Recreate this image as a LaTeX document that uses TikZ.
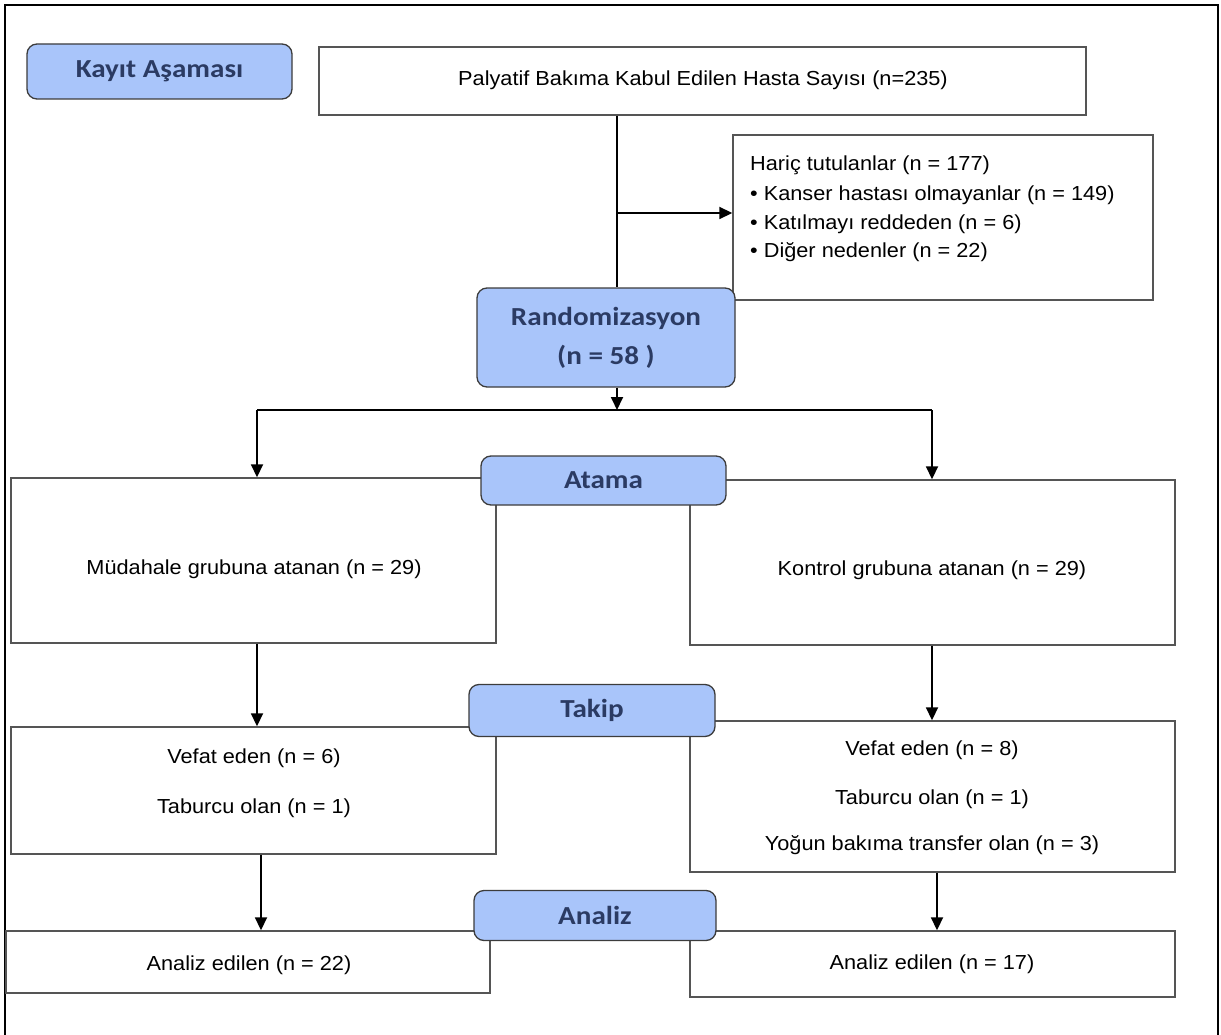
\documentclass[tikz,border=0pt]{standalone}
\usepackage{fontspec}
\setmainfont{Liberation Sans}[FakeStretch=1.07]
\newfontfamily\phasefont{Carlito}[FakeStretch=1.12]
\usetikzlibrary{arrows.meta}
\definecolor{phasefill}{HTML}{A9C5FA}
\definecolor{phasetext}{HTML}{2B3B63}
\definecolor{boxline}{HTML}{555555}
\begin{document}
\begin{tikzpicture}[x=1pt,y=-1pt,
  box/.style={draw=boxline, line width=1.4pt, fill=white, inner sep=0pt},
  phase/.style={draw=boxline!70!black, line width=1.3pt, fill=phasefill, rounded corners=10pt,
    inner sep=0pt, align=center, text=phasetext, font=\phasefont\bfseries\fontsize{26}{39}\selectfont},
  txt/.style={inner sep=0pt, font=\fontsize{20.3}{24}\selectfont},
  conn/.style={line width=1.8pt},
  arr/.style={line width=1.8pt, -{Triangle[length=13pt,width=12pt]}}]
\useasboundingbox (0,0) rectangle (1221,1035);
\fill[white] (0,0) rectangle (1221,1035);
\draw[line width=2.2pt] (5,1035) -- (5,5) -- (1218,5) -- (1218,1035);

% content boxes
\node[box, minimum width=767pt, minimum height=68pt] (top) at (702.5,81) {};
\node[box, minimum width=420pt, minimum height=165pt] (excl) at (943,217.5) {};
\node[box, minimum width=485pt, minimum height=165pt] (L1) at (253.5,560.5) {};
\node[box, minimum width=485pt, minimum height=165pt] (R1) at (932.5,562.5) {};
\node[box, minimum width=485pt, minimum height=127pt] (L2) at (253.5,790.5) {};
\node[box, minimum width=485pt, minimum height=151pt] (R2) at (932.5,796.5) {};
\node[box, minimum width=484pt, minimum height=62pt] (L3) at (248,962) {};
\node[box, minimum width=485pt, minimum height=66pt] (R3) at (932.5,964) {};

% texts
\node[txt] (ttop) at (703,80) {Palyatif Bakıma Kabul Edilen Hasta Sayısı (n=235)};
\node[txt, anchor=west] (e1) at (750,165) {Hariç tutulanlar (n = 177)};
\node[txt, anchor=west] (e2) at (750,195) {• Kanser hastası olmayanlar (n = 149)};
\node[txt, anchor=west] (e3) at (750,224) {• Katılmayı reddeden (n = 6)};
\node[txt, anchor=west] (e4) at (750,252) {• Diğer nedenler (n = 22)};
\node[txt] (tL1) at (254,569) {Müdahale grubuna atanan (n = 29)};
\node[txt] (tR1) at (932,570) {Kontrol grubuna atanan (n = 29)};
\node[txt] (tL2a) at (254,758) {Vefat eden (n = 6)};
\node[txt] (tL2b) at (254,808) {Taburcu olan (n = 1)};
\node[txt] (tR2a) at (932,750) {Vefat eden (n = 8)};
\node[txt] (tR2b) at (932,799) {Taburcu olan (n = 1)};
\node[txt] (tR2c) at (932,845) {Yoğun bakıma transfer olan (n = 3)};
\node[txt] (tL3) at (249,965) {Analiz edilen (n = 22)};
\node[txt] (tR3) at (932,964) {Analiz edilen (n = 17)};

% phase boxes
\node[phase, minimum width=265pt, minimum height=55pt] (kayit) at (159.5,71.5) {Kayıt Aşaması};
\node[phase, minimum width=258pt, minimum height=99pt] (rand) at (606,337.5) {Randomizasyon\\(n = 58 )};
\node[phase, minimum width=245pt, minimum height=49pt] (atama) at (603.5,480.5) {Atama};
\node[phase, minimum width=246pt, minimum height=52pt] (takip) at (592,710.5) {Takip};
\node[phase, minimum width=242pt, minimum height=50pt] (analiz) at (595,915.5) {Analiz};

% connector coordinates
\coordinate (cx) at (617,0);
\coordinate (cb) at (617,213);
\coordinate (sp) at (617,410);
\coordinate (sL) at (257,410);
\coordinate (sR) at (932,410);
\coordinate (aL) at (261,0);
\coordinate (aR) at (937,0);

% connectors
\draw[conn] (top.south -| cx) -- (rand.north -| cx);
\draw[arr] (cb) -- (excl.west |- cb);
\draw[arr] (rand.south -| cx) -- (sp);
\draw[conn] (sL) -- (sR);
\draw[line width=2.6pt] ([xshift=-82pt]sp) -- ([xshift=36pt]sp);
\draw[arr] (sL) -- (sL |- L1.north);
\draw[arr] (sR) -- (sR |- R1.north);
\draw[arr] (sL |- L1.south) -- (sL |- L2.north);
\draw[arr] (sR |- R1.south) -- (sR |- R2.north);
\draw[arr] (aL |- L2.south) -- (aL |- L3.north);
\draw[arr] (aR |- R2.south) -- (aR |- R3.north);
\end{tikzpicture}
\end{document}
